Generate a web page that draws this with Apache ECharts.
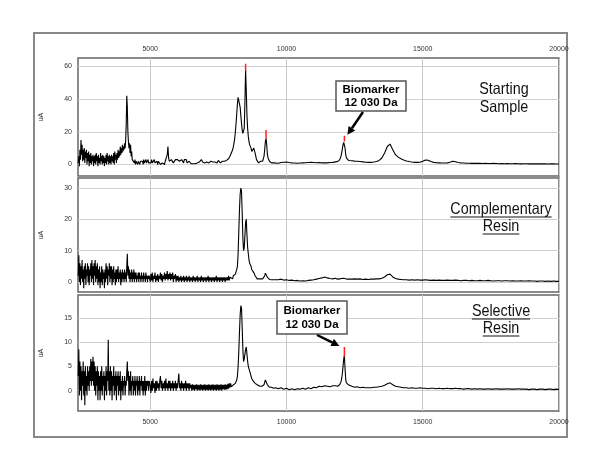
<!DOCTYPE html>
<html>
<head>
<meta charset="utf-8">
<script src="https://cdn.jsdelivr.net/npm/echarts@6/dist/echarts.min.js"></script>
<style>
html,body{margin:0;padding:0;background:#fff;}
#chart{width:600px;height:468px;}
</style>
</head>
<body>
<div id="chart"></div>
<script>
// ---- sampling grid of the spectra (m/z, Da): segment start and step ----
const segStarts = [2360, 5000, 8000, 9600, 11825, 12400];
const segSteps  = [20,   25,   25,   100,  25,    100];

// ---- axis ticks / ranges ----
const xRange = [2350, 20000];
const xTicks = [5000, 10000, 15000, 20000];
const topTicks = [0, 20, 40, 60];
const midTicks = [0, 10, 20, 30];
const botTicks = [0, 5, 10, 15];
const topRange = [-7, 65];
const midRange = [-3.2, 33.2];
const botRange = [-4.2, 19.7];

// ---- Starting Sample (uA) ----
const topUA = [
 [1,5,-1,9,3,15,6,12,2,9,
  3,10,1,8,4,9,0,7,2,8,
  -1,6,1,7,0,5,2,6,-1,5,
  1,6,0,7,2,5,-1,6,1,4,
  0,7,2,5,0,6,1,5,-1,4,
  1,6,0,7,2,5,0,6,1,5,
  0,6,2,5,1,7,0,8,3,6,
  1,7,3,9,4,8,5,11,6,10,
  7,12,8,11,9,13,10,15,25,42,
  35,20,14,10,13,7,12,5,8,3,
  4,2,3,1,3,0,2,1,3,0,
  2,1,3,0,2,1,3,1,2,0,
  3,1,2,0,3,1,2,1,3,1,
  2],
 [2,1,3,1,2,1,3,1,2,1,
  2,0,2,1,1,0,1,0,1,0,
  1,0,2,1,3,6,11,4,2,3,
  1,3,2,3,1,2,1,3,2,2,
  3,2,4,2,3,1,3,2,2,1,
  3,4,2,3,1,2,1,2,1,1,
  0.5,1,1.5,0.5,1,1.5,0.5,1,1.5,1,
  1.5,2,1.5,2.5,2,3,2,1.5,1,1.5,
  1,1.5,0.5,1.5,1,2,1,1.5,1,2,
  1,2,1.5,1,2,1.5,1,2,1,1.5,
  2.5,1.5,2,1,1.5,1,2,1.5,1,2,
  1.5,2,2.5,2,3,3.5,4,5,6,7],
 [8,9,11,13,16,20,25,31,37,41,42,40,35,30,25,21,19,18,22,38,58,45,30,22,17,14,12,12,10,8,8,9,10,10,7,5,3,2,2,1,1,1,2,1,1,2,3,5,9,14,16,12,6,4,3,2,2,2,1,1,2,1,1,1],
 [1,0.8,1.2,1.4,1.5,1.2,1,0.9,0.8,0.9,1,1.1,1.2,1.3,1.2,1.1,1.2,1.0,1.1,1.0,1.2,1.3,1.6],
 [1.5,1.6,1.8,2,2.3,2.8,3.5,5,7,9.5,12,13.5,14,10,6,4,3,2.8,2.5,2.5],
 [2.3,2.1,2.0,1.8,1.6,1.4,1.3,
  1.3,1.5,1.8,2.5,4,7,11,12.5,9,6,
  4.5,3.5,2.8,2.2,1.8,1.5,1.3,1.3,1.4,2,
  2.8,2.6,1.8,1.3,1.1,1.0,0.9,0.9,1.0,1.4,
  2.0,1.7,1.2,1.0,0.9,0.8,0.8,0.7,0.8,0.7,
  0.7,0.6,0.7,0.6,0.6,0.7,0.6,0.5,0.6,0.5,
  0.6,0.5,0.5,0.6,0.5,0.4,0.5,0.5,0.4,0.5,
  0.4,0.4,0.5,0.4,0.4,0.3,0.4,0.4,0.3,0.3]
];
// ---- Complementary Resin (uA) ----
const midUA = [
 [2,8.5,0,6,-1,5,1,7,0,4,
  -2,5,1,6,-1,4,2,6,0,5,
  -1,4,2,6,0,7,1,5,-1,6,
  2,7,0,5,1,6,-1,4,0,5,
  -2,3,0,5,-1,4,1,3,-2,4,
  0,6,1,5,-1,4,2,6,0,5,
  1,5,-1,4,0,5,1,3,-1,4,
  0,4,1,5,0,3,1,4,-1,3,
  0,4,1,3,0,4,1,3,0,5,
  9,2,5,1,4,0,3,1,4,0,
  3,1,4,0,3,1,3,0,2,1,
  3,0,3,1,2,0,3,1,2,0,
  3,1,2,0,3,1,2,0,2,1,
  2],
 [0,2.5,0.5,3,0,2,1,3,0,2,
  0.5,2.5,0,2,1,3,0.5,2.5,0,2,
  1,3,0.5,2.5,1,3.5,0.5,2.5,1,3,
  0.5,2.5,1,3,0,2,1,2.5,0,2,
  0.5,2,0,1.5,0.5,2,0,1.5,0.5,2,
  0,1.5,0.5,2,0,1.5,0.5,2,0,1.5,
  0.5,1.5,0,2,0.5,1.5,0,1.5,0.5,2,
  0,1.5,0.5,1.5,0,2,0.5,1.5,0,1.5,
  0.5,1.5,0,1.5,0.5,2,0,1.5,0.5,1.5,
  0,1.5,0.5,1.5,0,1.5,0.5,2,0,1.5,
  0.5,1.5,0,1.5,0.5,1.5,0,1.5,0.5,1.5,
  0,1.5,0.5,1.5,0.5,2,0.5,1.5,1,1.5],
 [1.5,1,2,1.5,2,2.5,3,4,5,9,16,23,28,30,29,22,14,10,11,15,19,20,15,11,9,7,6,5.5,5,4,3.5,3.5,3,2.5,2,1.5,1.5,1,1.5,1,1,1,1,1,1,1,1.2,1.5,2,2.8,3.2,2.5,1.5,1,1,0.8,1,0.8,0.7,1,0.8,0.7,0.9,0.8],
 [0.8,0.7,0.9,0.6,0.7,0.5,0.6,0.4,0.5,0.3,0.4,0.3,0.5,0.6,0.7,0.9,1.1,1.3,1.6,1.3,1.1,1.0,1.2],
 [1.1,1.0,0.9,1.0,1.1,1.0,0.9,1.0,1.1,1.3,1.4,1.2,1.0,0.9,1.0,0.9,0.8,0.9,0.8,0.8],
 [0.9,1.0,0.9,1.0,0.8,0.9,0.8,
  0.9,0.9,1.0,1.0,1.2,1.6,2.3,2.5,1.6,1.1,
  0.9,0.8,0.7,0.7,0.6,0.7,0.6,0.7,0.6,0.6,
  0.7,0.6,0.5,0.6,0.5,0.6,0.5,0.5,0.6,0.5,
  0.5,0.6,0.5,0.4,0.5,0.5,0.4,0.5,0.4,0.4,
  0.5,0.4,0.4,0.5,0.4,0.3,0.4,0.4,0.3,0.4,
  0.4,0.3,0.4,0.3,0.3,0.4,0.3,0.3,0.4,0.3,
  0.3,0.2,0.3,0.3,0.2,0.3,0.2,0.3,0.2,0.2]
];
// ---- Selective Resin (uA) ----
const botUA = [
 [3,8.5,-1,6,0,5,-2,4,1,6,
  -1,4,-3,5,0,3,-1,5,1,4,
  0,5,2,6.5,1,6,2,7,1,6,
  0,5,-1,4,1,5,-2,4,0,3,
  -2,4,0,5,-1,3,1,4,-2,3,
  0,5,-1,4,2,10.5,0,4,-1,5,
  0,4,-2,3,1,5,-1,3,0,4,
  -2,3,1,4,-1,3,0,4,-2,2,
  0,3,-1,2,1,3,-1,2,1,4,
  6,2,4,-1,3,0,4,-1,2,1,
  3,-1,2,0,3,-1,2,1,3,-1,
  2,0,3,-1,2,1,3,0,2,-1,
  2,0,3,-1,2,0,2,1,2,0,
  2],
 [1,-0.5,2,0,2.5,0.5,1.5,-0.5,2,0,
  2,0.5,1.5,0,2,3,0.5,2,0,1.5,
  0.5,2,0,2.5,0.5,1.5,0,2,0.5,2,
  0,1.5,0.5,2,0,1.5,0.5,2,0,1.5,
  0.5,2,3.5,0.5,1.5,0,2,0.5,1.5,0,
  1.5,0.5,2,0,1.5,0.5,1.5,0,1.5,0.5,
  1.2,0,1.3,0.2,1.2,0,1.2,0.3,1.3,0,
  1.2,0.2,1.2,0,1.3,0.2,1.2,0,1.2,0.2,
  1.3,0,1.2,0.2,1.2,0,1.3,0.2,1.2,0,
  1.2,0.2,1.3,0,1.2,0.2,1.2,0,1.3,0.2,
  1.2,0,1.2,0.2,1.3,0,1.2,0.3,1.2,0.2,
  1.3,0.2,1.2,0.3,1.4,0.4,1.5,0.6,1.5,0.8],
 [1,0.5,1.2,0.8,1.2,1.5,1.8,2.2,3,5,8,12,15.5,17.5,17,13,8.5,6,6.5,7.5,8.5,9,7.5,6,5,4.5,4,3.5,3,2.5,2.2,2,2,1.8,1.5,1.8,1.5,1.2,1.3,1,1,0.9,1,0.8,0.9,1,1,1.2,1.6,2.2,2.6,1.8,1.2,0.9,0.8,0.7,0.8,0.6,0.7,0.6,0.7,0.5,0.6,0.5],
 [0.6,0.4,0.6,0.3,0.5,0.2,0.4,0.2,0.4,0.3,0.5,0.3,0.6,0.4,0.7,0.6,0.9,0.8,1.0,0.9,0.8,1.0,1.0],
 [0.9,1.0,0.9,1.0,1.1,1.2,1.4,1.8,2.5,3.5,5,6.5,7.2,4.5,2.2,1.6,1.8,1.5,1.2,1.0],
 [0.9,0.7,0.8,0.6,0.7,0.6,0.6,
  0.6,0.7,0.7,0.8,0.9,1.1,1.4,1.6,1.2,0.9,
  0.8,0.7,0.6,0.6,0.5,0.6,0.5,0.5,0.6,0.5,
  0.5,0.4,0.5,0.5,0.4,0.5,0.4,0.4,0.5,0.4,
  0.4,0.5,0.4,0.4,0.3,0.4,0.4,0.3,0.4,0.3,
  0.4,0.3,0.3,0.4,0.3,0.3,0.4,0.3,0.3,0.3,
  0.4,0.3,0.3,0.3,0.4,0.3,0.3,0.3,0.2,0.3,
  0.3,0.2,0.3,0.3,0.2,0.3,0.3,0.2,0.3,0.2]
];
// ---- red peak-top marks: [m/z, from uA, to uA] ----
const topRed = [[8500, 57, 61.5], [9250, 16, 21], [12125, 14, 17.5]];
const botRed = [[12125, 7, 9]];

// ---- labels ----
const panelTitles = [["Starting", "Sample"], ["Complementary", "Resin"], ["Selective", "Resin"]];
const biomarkerText = ["Biomarker", "12 030 Da"];
const yName = "uA";

function toPairs(segs) {
  const out = [];
  segs.forEach((vals, s) => vals.forEach((v, i) => out.push([segStarts[s] + i * segSteps[s], v])));
  return out;
}

const FONT = "'Liberation Sans', Arial, sans-serif";
const grids = [
  {left: 78, top: 58, width: 481, height: 118},
  {left: 78, top: 178, width: 481, height: 114},
  {left: 78, top: 295, width: 481, height: 116}
];
const yTicksList = [topTicks, midTicks, botTicks];
const yRanges = [topRange, midRange, botRange];

const option = {
  animation: false,
  backgroundColor: '#fff',
  grid: grids.map(g => Object.assign({show: true, backgroundColor: '#fff', borderColor: '#666', borderWidth: 1.5}, g)),
  xAxis: grids.map((g, i) => ({
    type: 'value', gridIndex: i, min: xRange[0], max: xRange[1],
    position: i === 0 ? 'top' : 'bottom',
    axisLine: {show: false},
    axisTick: {show: false, customValues: xTicks},
    axisLabel: {show: i !== 1, customValues: xTicks, fontSize: 7, color: '#333', fontFamily: FONT,
      margin: i === 0 ? 5 : 8, formatter: v => String(v)},
    splitLine: {show: true, lineStyle: {color: '#c8c8c8', width: 1}}
  })),
  yAxis: grids.map((g, i) => ({
    type: 'value', gridIndex: i, min: yRanges[i][0], max: yRanges[i][1],
    name: yName, nameLocation: 'middle', nameGap: 33, nameRotate: 90,
    nameTextStyle: {fontSize: 7, color: '#333', fontFamily: FONT},
    axisLine: {show: false},
    axisTick: {show: false, customValues: yTicksList[i]},
    axisLabel: {customValues: yTicksList[i], fontSize: 7, color: '#333', fontFamily: FONT, margin: 6, formatter: v => String(v)},
    splitLine: {show: true, lineStyle: {color: '#d0d0d0', width: 1}}
  })),
  series: []
};

[topUA, midUA, botUA].forEach((segs, i) => {
  option.series.push({
    type: 'line', xAxisIndex: i, yAxisIndex: i, data: toPairs(segs),
    showSymbol: false, symbol: 'none', sampling: null,
    lineStyle: {color: '#000', width: 1.1}, silent: true, z: 3
  });
});
[[topRed, 0], [botRed, 2]].forEach(([marks, gi]) => {
  marks.forEach(m => option.series.push({
    type: 'line', xAxisIndex: gi, yAxisIndex: gi,
    data: [[m[0], m[1]], [m[0], m[2]]],
    symbol: 'none', lineStyle: {color: '#ff2020', width: 1.5}, silent: true, z: 4
  }));
});

const chart = echarts.init(document.getElementById('chart'), null, {renderer: 'canvas'});
chart.setOption(option);

// ---- annotations ----
const ctx = document.createElement('canvas').getContext('2d');
function textW(str, size, weight) {
  ctx.font = (weight || 'normal') + ' ' + size + 'px ' + FONT;
  return ctx.measureText(str).width;
}
const g = [];
// outer frame
g.push({type: 'rect', shape: {x: 34, y: 33, width: 533, height: 404}, style: {fill: null, stroke: '#888', lineWidth: 2}, z: 0});

// panel titles
const TS = 16.5, SX = 0.87;
const titlePos = [[504, [89, 107], false], [501, [209, 226], true], [501, [311, 328], true]];
panelTitles.forEach((lines, p) => {
  const [cx, ys, underline] = titlePos[p];
  lines.forEach((t, k) => {
    g.push({type: 'text', x: cx, y: ys[k], scaleX: SX, z: 20,
      style: {text: t, fontSize: TS, fontFamily: FONT, fill: '#111', align: 'center', verticalAlign: 'middle'}});
    if (underline) {
      const w = textW(t, TS) * SX;
      g.push({type: 'line', z: 20, shape: {x1: cx - w / 2, y1: ys[k] + 8, x2: cx + w / 2, y2: ys[k] + 8}, style: {stroke: '#111', lineWidth: 1}});
    }
  });
});

// biomarker boxes with arrows
function arrow(x1, y1, x2, y2) {
  const dx = x2 - x1, dy = y2 - y1, L = Math.hypot(dx, dy);
  const ux = dx / L, uy = dy / L, hl = 8, hw = 4;
  const bx = x2 - ux * hl, by = y2 - uy * hl;
  g.push({type: 'line', z: 21, shape: {x1: x1, y1: y1, x2: bx, y2: by}, style: {stroke: '#000', lineWidth: 2.5}});
  g.push({type: 'polygon', z: 21, shape: {points: [[x2, y2], [bx - uy * hw, by + ux * hw], [bx + uy * hw, by - ux * hw]]}, style: {fill: '#000'}});
}
function box(x, y, w, h) {
  g.push({type: 'rect', z: 20, shape: {x: x, y: y, width: w, height: h}, style: {fill: '#fff', stroke: '#555', lineWidth: 1.5}});
  biomarkerText.forEach((t, k) => g.push({type: 'text', z: 21, x: x + w / 2, y: y + h / 2 + (k === 0 ? -6.5 : 7),
    style: {text: t, fontSize: 11.5, fontWeight: 'bold', fontFamily: FONT, fill: '#000', align: 'center', verticalAlign: 'middle'}}));
}
box(336, 81, 70, 30);
const p1 = chart.convertToPixel({xAxisIndex: 0, yAxisIndex: 0}, [topRed[2][0], topRed[2][2]]);
arrow(363, 112, p1[0] + 3, p1[1] - 1);
box(277, 301, 70, 33);
const p2 = chart.convertToPixel({xAxisIndex: 2, yAxisIndex: 2}, [botRed[0][0], botRed[0][2]]);
arrow(317, 335, p2[0] - 5, p2[1] - 1);

chart.setOption({graphic: {elements: g}});
</script>
</body>
</html>
